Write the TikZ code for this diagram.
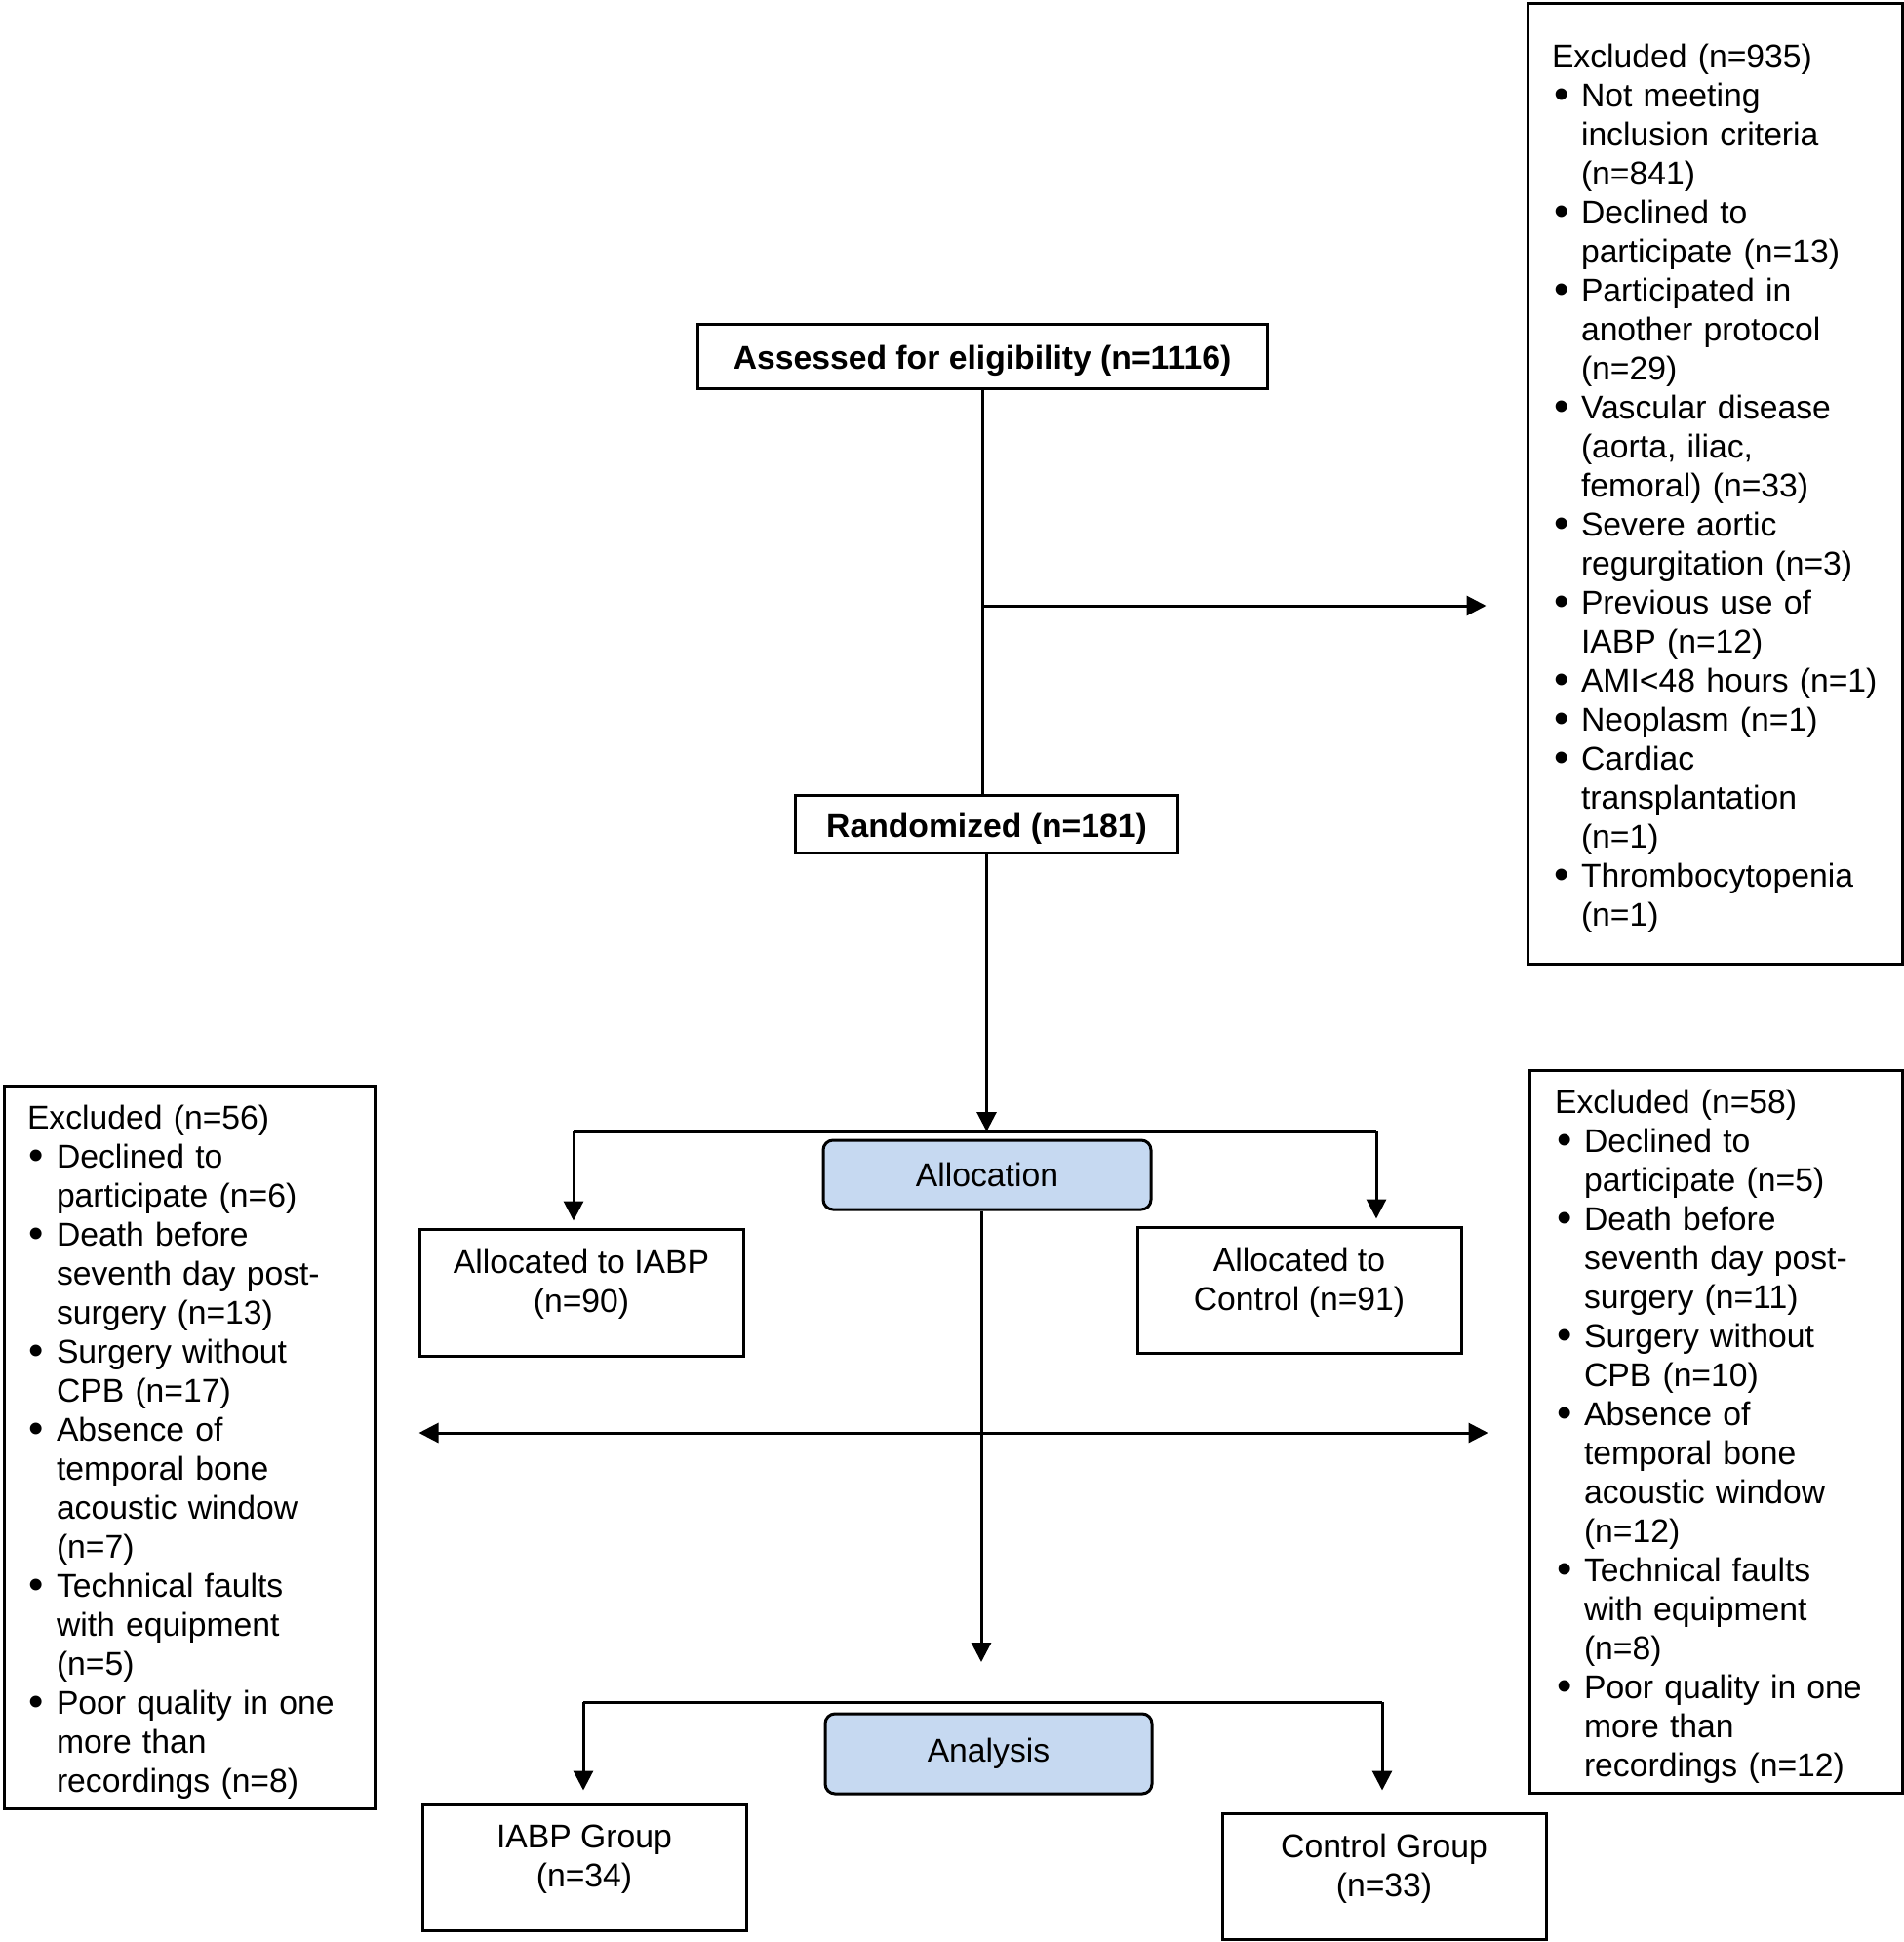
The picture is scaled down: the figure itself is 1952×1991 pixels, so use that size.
\documentclass[tikz,border=0pt]{standalone}
\usepackage{fontspec}
\setmainfont{Liberation Sans}
\usetikzlibrary{arrows.meta,positioning}
\definecolor{stageblue}{RGB}{198,217,241}
\newcommand{\bitem}[1]{\par\hangindent=15pt\hangafter=1\noindent\makebox[15pt][l]{\hspace{1pt}\raisebox{-1.2pt}{\scalebox{1.3}{\textbullet}}}#1\par}
\newcommand{\dropstrut}{\rule[-11.5pt]{0pt}{11.5pt}}
\newcommand{\topstrut}{\rule{0pt}{17pt}}
\begin{document}
\begin{tikzpicture}[x=0.5pt,y=-0.5pt,>={Triangle[length=10pt,width=10pt]},
    font=\fontsize{16.85pt}{20pt}\selectfont,
    box/.style={draw,line width=1.5pt,inner sep=0pt,align=center},
    listbox/.style={draw,line width=1.5pt,inner ysep=0pt,align=left},
    stagebox/.style={box,fill=stageblue,rounded corners=5pt},
    link/.style={line width=1.5pt}]
    \useasboundingbox (0,0) rectangle (1952,1991);
    \node[box,minimum width=292pt,minimum height=33pt] (assess) at (1007,365)
        {\topstrut\bfseries Assessed for eligibility (n=1116)};
    \node[box,minimum width=196pt,minimum height=29.5pt] (random) at (1011.5,844.5)
        {\topstrut\bfseries Randomized (n=181)};
    \node[listbox,text width=167pt,inner xsep=12.5pt,minimum height=492pt] (exclA) at (1758,496)
        {\topstrut Excluded (n=935)
        \bitem{Not meeting\newline inclusion criteria\newline (n=841)}
        \bitem{Declined to\newline participate (n=13)}
        \bitem{Participated in\newline another protocol\newline (n=29)}
        \bitem{Vascular disease\newline (aorta, iliac,\newline femoral) (n=33)}
        \bitem{Severe aortic\newline regurgitation (n=3)}
        \bitem{Previous use of\newline IABP (n=12)}
        \bitem{AMI<48 hours (n=1)}
        \bitem{Neoplasm (n=1)}
        \bitem{Cardiac\newline transplantation\newline (n=1)}
        \bitem{Thrombocytopenia\newline (n=1)}};
    \node[stagebox,minimum width=168pt,minimum height=35.5pt] (alloc) at (1012,1204.5) {Allocation};
    \node[box,minimum width=166pt,minimum height=65pt] (allocI) at (596,1325)
        {Allocated to IABP\\(n=90)\dropstrut};
    \node[box,minimum width=166pt,minimum height=64.5pt] (allocC) at (1332,1322.5)
        {Allocated to\\Control (n=91)\dropstrut};
    \node[listbox,text width=166pt,inner xsep=12pt,minimum height=370.5pt] (exclB) at (194,1483.5)
        {\topstrut Excluded (n=56)
        \bitem{Declined to\newline participate (n=6)}
        \bitem{Death before\newline seventh day post-\newline surgery (n=13)}
        \bitem{Surgery without\newline CPB (n=17)}
        \bitem{Absence of\newline temporal bone\newline acoustic window\newline (n=7)}
        \bitem{Technical faults\newline with equipment\newline (n=5)}
        \bitem{Poor quality in one\newline more than\newline recordings (n=8)}};
    \node[listbox,text width=165pt,inner xsep=13pt,minimum height=370.5pt] (exclC) at (1759,1467.5)
        {\topstrut Excluded (n=58)
        \bitem{Declined to\newline participate (n=5)}
        \bitem{Death before\newline seventh day post-\newline surgery (n=11)}
        \bitem{Surgery without\newline CPB (n=10)}
        \bitem{Absence of\newline temporal bone\newline acoustic window\newline (n=12)}
        \bitem{Technical faults\newline with equipment\newline (n=8)}
        \bitem{Poor quality in one\newline more than\newline recordings (n=12)}};
    \node[stagebox,minimum width=167.5pt,minimum height=41pt] (analysis) at (1013.5,1798) {Analysis};
    \node[box,minimum width=166pt,minimum height=64.5pt] (groupI) at (599,1914.5)
        {IABP Group\\(n=34)\dropstrut};
    \node[box,minimum width=166pt,minimum height=64.5pt] (groupC) at (1419,1923.5)
        {Control Group\\(n=33)\dropstrut};
    % connectors
    \coordinate (split) at (1007,621);
    \coordinate (allocL) at (588,1160);
    \coordinate (allocR) at (1411,1160);
    \coordinate (cross) at (1006,1469);
    \coordinate (lowtip) at (1006,1704);
    \coordinate (anL) at (598,1745);
    \coordinate (anR) at (1417,1745);
    \draw[link] (assess.south) -- (assess.south |- random.north);
    \draw[link,->,shorten >=20.5pt] (split) -- (split -| exclA.west);
    \draw[link,->] (random.south) -- (random.south |- allocL);
    \draw[link] (allocL) -- (allocR);
    \draw[link,->,shorten >=3.5pt] (allocL) -- (allocL |- allocI.north);
    \draw[link,->,shorten >=3.5pt] (allocR) -- (allocR |- allocC.north);
    \draw[link,->] (alloc.south -| lowtip) -- (lowtip);
    \draw[link,<->,shorten <=22pt,shorten >=20.5pt] (cross -| exclB.east) -- (cross -| exclC.west);
    \draw[link] (anL) -- (anR);
    \draw[link,->,shorten >=6.5pt] (anL) -- (anL |- groupI.north);
    \draw[link,->,shorten >=11pt] (anR) -- (anR |- groupC.north);
\end{tikzpicture}
\end{document}
